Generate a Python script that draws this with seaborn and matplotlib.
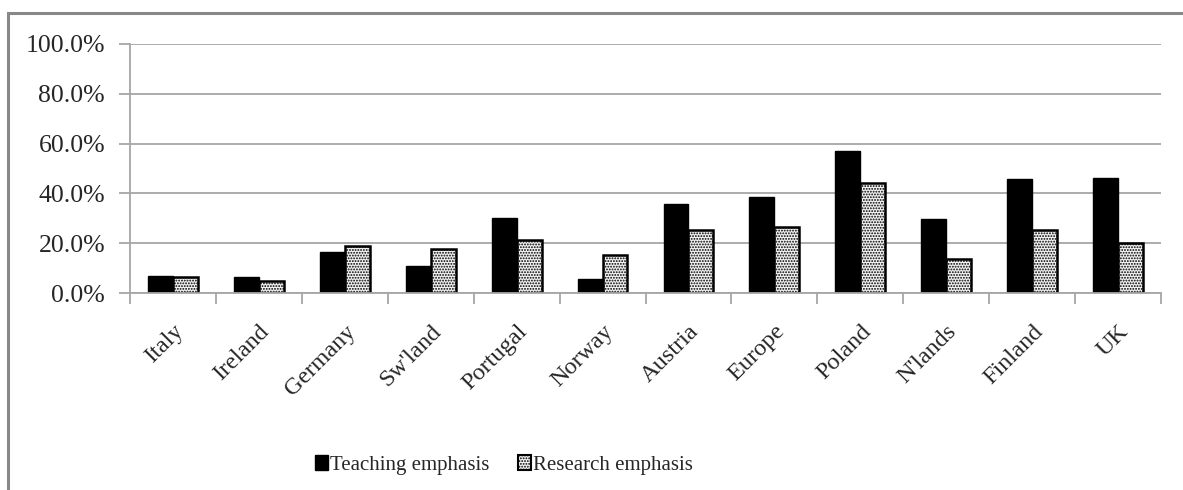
import numpy as np
import pandas as pd
import matplotlib
matplotlib.use("Agg")
import matplotlib.pyplot as plt
from matplotlib.patches import Rectangle, Patch
from matplotlib.ticker import FuncFormatter, FixedLocator
import seaborn as sns

countries = ["Italy", "Ireland", "Germany", "Sw'land", "Portugal", "Norway",
             "Austria", "Europe", "Poland", "N'lands", "Finland", "UK"]
teaching = [6.8, 6.3, 16.3, 10.8, 30.0, 5.7, 35.6, 38.4, 57.0, 29.8, 45.8, 46.3]
research = [6.5, 4.8, 19.0, 17.5, 21.4, 15.3, 25.3, 26.6, 44.3, 13.5, 25.3, 20.1]
series = ["Teaching emphasis", "Research emphasis"]

df = pd.DataFrame({
    "country": countries * 2,
    "value": teaching + research,
    "series": [series[0]] * len(countries) + [series[1]] * len(countries),
})

sns.set_style("white")
plt.rcParams["font.family"] = ["Liberation Serif", "DejaVu Serif"]
plt.rcParams["hatch.linewidth"] = 0.9
plt.rcParams["hatch.color"] = "#555555"

fig = plt.figure(figsize=(11.83, 4.90), dpi=100)
ax = fig.add_axes([130 / 1183, 1 - 293 / 490, 1031 / 1183, 249 / 490])

sns.barplot(data=df, x="country", y="value", hue="series", order=countries,
            hue_order=series, palette=["black", "#e6e6e6"], width=0.58,
            gap=0, edgecolor="black", linewidth=1.6, legend=False, ax=ax)

n = len(countries)
for i, p in enumerate(ax.patches[:2 * n]):
    if i >= n:
        p.set_hatch("......")
        p.set_facecolor("#f2f2f2")
        p.set_edgecolor("black")
        p.set_linewidth(1.8)
    else:
        p.set_linewidth(1.0)

ax.set_ylim(0, 100)
ax.set_xlim(-0.5, n - 0.5)
ax.set_yticks(np.arange(0, 101, 20))
ax.yaxis.set_major_formatter(FuncFormatter(lambda v, _: f"{v:.1f}%"))
ax.yaxis.grid(True, color="#a6a6a6", linewidth=1.3)
ax.set_axisbelow(True)
ax.set_xlabel("")
ax.set_ylabel("")

for s in ["top", "right"]:
    ax.spines[s].set_visible(False)
for s in ["left", "bottom"]:
    ax.spines[s].set_color("#a6a6a6")
    ax.spines[s].set_linewidth(1.3)

ax.tick_params(axis="y", which="major", left=True, length=8, width=1.3,
               color="#a6a6a6", labelsize=18.5, pad=10)
ax.tick_params(axis="x", which="major", bottom=False, length=0, labelsize=17.5, pad=20)
ax.xaxis.set_minor_locator(FixedLocator(np.arange(-0.5, n, 1.0)))
ax.tick_params(axis="x", which="minor", bottom=True, length=8, width=1.3,
               color="#a6a6a6")
for lab in ax.get_xticklabels():
    lab.set_rotation(45)
    lab.set_ha("right")
    lab.set_rotation_mode("anchor")

handles = [
    Patch(facecolor="black", edgecolor="black", label=series[0]),
    Patch(facecolor="#f2f2f2", edgecolor="black", hatch="......", linewidth=1.5,
          label=series[1]),
]
fig.legend(handles=handles, loc="center", bbox_to_anchor=(504 / 1183, 1 - 465 / 490),
           ncol=2, frameon=False, fontsize=15, handlelength=0.6, handleheight=0.75,
           handletextpad=0.1, columnspacing=1.4)

# chart frame
fig.patches.append(Rectangle((8 / 1183, -0.05), 1.1, 1 - 13 / 490 + 0.05,
                             transform=fig.transFigure, fill=False,
                             edgecolor="#888888", linewidth=2.2))

fig.savefig("out.png", dpi=100)
